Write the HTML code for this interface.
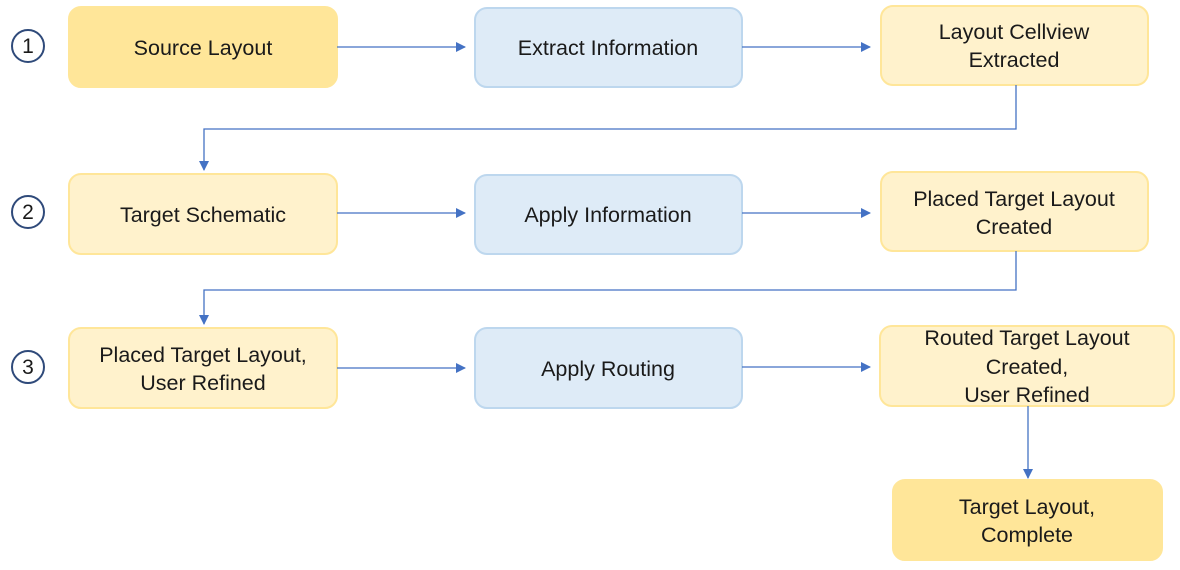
<!DOCTYPE html>
<html><head><meta charset="utf-8"><style>
html,body{margin:0;padding:0;background:#fff;width:1180px;height:570px;overflow:hidden}
text{font-family:"Liberation Sans",sans-serif;font-size:21.5px;fill:#1a1a1a;text-anchor:middle}
</style></head><body>
<svg width="1180" height="570" xmlns="http://www.w3.org/2000/svg">
<defs><marker id="a" markerWidth="10" markerHeight="10" refX="9" refY="5" orient="auto" markerUnits="userSpaceOnUse"><path d="M0,0 L10,5 L0,10 z" fill="#4472c4"/></marker></defs>
<g fill="none" stroke="#2f4a7a" stroke-width="2">
<circle cx="28" cy="46" r="16"/><circle cx="28" cy="212" r="16"/><circle cx="28" cy="367" r="16"/>
</g>
<text x="28" y="53" style="font-size:21px">1</text><text x="28" y="219" style="font-size:21px">2</text><text x="28" y="374" style="font-size:21px">3</text>
<g stroke-width="2">
<rect x="69" y="7" width="268" height="80" rx="12" fill="#ffe699" stroke="#ffe699"/>
<rect x="475" y="8" width="267" height="79" rx="12" fill="#deebf7" stroke="#bdd7ee"/>
<rect x="881" y="6" width="267" height="79" rx="12" fill="#fff2cc" stroke="#ffe699"/>
<rect x="69" y="174" width="268" height="80" rx="12" fill="#fff2cc" stroke="#ffe699"/>
<rect x="475" y="175" width="267" height="79" rx="12" fill="#deebf7" stroke="#bdd7ee"/>
<rect x="881" y="172" width="267" height="79" rx="12" fill="#fff2cc" stroke="#ffe699"/>
<rect x="69" y="328" width="268" height="80" rx="12" fill="#fff2cc" stroke="#ffe699"/>
<rect x="475" y="328" width="267" height="80" rx="12" fill="#deebf7" stroke="#bdd7ee"/>
<rect x="880" y="326" width="294" height="80" rx="12" fill="#fff2cc" stroke="#ffe699"/>
<rect x="893" y="480" width="269" height="80" rx="12" fill="#ffe699" stroke="#ffe699"/>
</g>
<g stroke="#4472c4" stroke-width="1.3" fill="none" marker-end="url(#a)">
<path d="M337,47 H465"/><path d="M742,47 H870"/>
<path d="M1016,85 V129 H204 V170"/>
<path d="M337,213 H465"/><path d="M742,213 H870"/>
<path d="M1016,251 V290 H204 V324"/>
<path d="M337,368 H465"/><path d="M742,367 H870"/>
<path d="M1028,406 V478"/>
</g>
<text x="203" y="55">Source Layout</text>
<text x="608" y="55">Extract Information</text>
<text x="1014" y="39">Layout Cellview</text><text x="1014" y="67">Extracted</text>
<text x="203" y="222">Target Schematic</text>
<text x="608" y="222">Apply Information</text>
<text x="1014" y="206">Placed Target Layout</text><text x="1014" y="234">Created</text>
<text x="203" y="362">Placed Target Layout,</text><text x="203" y="390">User Refined</text>
<text x="608" y="376">Apply Routing</text>
<text x="1027" y="345">Routed Target Layout</text><text x="1027" y="374">Created,</text><text x="1027" y="402">User Refined</text>
<text x="1027" y="514">Target Layout,</text><text x="1027" y="542">Complete</text>
</svg>
</body></html>
